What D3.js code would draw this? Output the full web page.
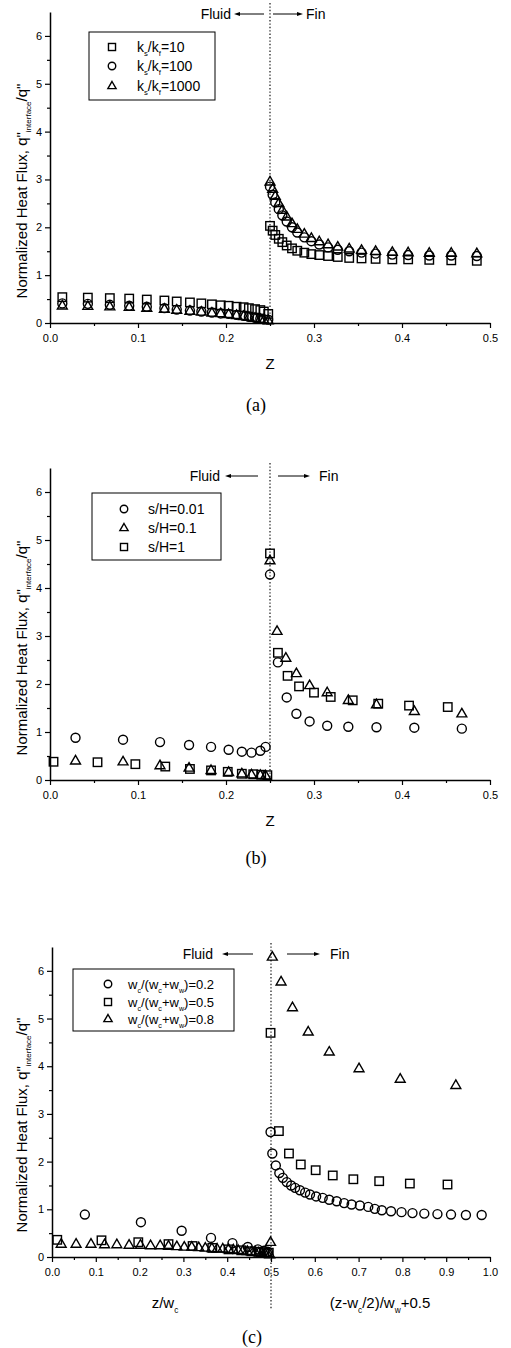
<!DOCTYPE html>
<html><head><meta charset="utf-8">
<script src="https://cdn.jsdelivr.net/npm/d3@7"></script>
<style>body{margin:0;background:#fff}svg{display:block}</style>
</head><body>
<svg id="fig" width="511" height="1348"></svg>
<script>
// ---------- (a) conductivity ratio k_s/k_f ----------
const zA = [0.014,0.043,0.068,0.090,0.110,0.130,0.144,0.159,0.172,0.184,0.194,0.203,0.212,0.220,0.226,0.233,0.239,0.243,0.248,
            0.250,0.253,0.256,0.260,0.264,0.269,0.275,0.281,0.289,0.297,0.306,0.316,0.327,0.340,0.354,0.370,0.389,0.407,0.431,0.456,0.485];
const aK10   = [0.54,0.53,0.52,0.51,0.49,0.47,0.45,0.43,0.41,0.39,0.37,0.36,0.34,0.33,0.31,0.29,0.27,0.24,0.19,
                2.03,1.93,1.84,1.76,1.69,1.62,1.56,1.51,1.47,1.44,1.42,1.40,1.38,1.36,1.35,1.34,1.33,1.33,1.32,1.31,1.30];
const aK100  = [0.41,0.40,0.38,0.36,0.34,0.31,0.28,0.26,0.24,0.22,0.20,0.19,0.17,0.15,0.13,0.11,0.09,0.08,0.07,
                2.85,2.68,2.52,2.38,2.25,2.12,2.00,1.89,1.79,1.71,1.64,1.58,1.53,1.50,1.47,1.45,1.43,1.42,1.41,1.41,1.40];
const aK1000 = [0.36,0.35,0.34,0.33,0.31,0.29,0.27,0.25,0.23,0.21,0.20,0.18,0.16,0.14,0.12,0.10,0.08,0.06,0.05,
                2.95,2.80,2.65,2.50,2.36,2.22,2.08,1.96,1.86,1.77,1.70,1.64,1.59,1.55,1.52,1.50,1.48,1.47,1.46,1.46,1.45];

// ---------- (b) thickness ratio s/H ----------
const bZ001 = [0.029,0.083,0.125,0.158,0.183,0.203,0.218,0.229,0.239,0.245,0.250,0.259,0.269,0.280,0.295,0.315,0.339,0.371,0.414,0.468];
const bS001 = [0.88,0.84,0.79,0.73,0.69,0.63,0.59,0.57,0.61,0.69,4.28,2.45,1.72,1.38,1.22,1.13,1.11,1.10,1.09,1.07];
const bZ01  = [0.029,0.083,0.125,0.158,0.183,0.203,0.218,0.229,0.239,0.245,0.250,0.258,0.268,0.280,0.295,0.315,0.339,0.371,0.414,0.468];
const bS01  = [0.40,0.38,0.30,0.25,0.20,0.16,0.13,0.11,0.10,0.09,4.57,3.10,2.54,2.22,1.97,1.82,1.66,1.57,1.43,1.38];
const bZ1   = [0.004,0.054,0.097,0.131,0.159,0.183,0.202,0.218,0.231,0.240,0.247,0.250,0.259,0.270,0.283,0.300,0.319,0.344,0.373,0.408,0.452];
const bS1   = [0.38,0.37,0.33,0.28,0.23,0.20,0.17,0.13,0.12,0.11,0.10,4.72,2.65,2.17,1.95,1.82,1.73,1.66,1.59,1.55,1.52];

// ---------- (c) width ratio w_c/(w_c+w_w) ----------
const cZ02 = [0.075,0.203,0.296,0.363,0.412,0.447,0.470,0.484,0.493,
              0.499,0.503,0.511,0.519,0.527,0.536,0.546,0.555,0.566,0.578,0.589,0.603,0.618,0.633,0.650,0.667,0.684,0.703,0.722,0.737,0.753,0.774,0.798,0.823,0.850,0.880,0.911,0.945,0.981];
const cW02 = [0.89,0.73,0.55,0.40,0.29,0.21,0.16,0.13,0.11,
              2.62,2.17,1.92,1.76,1.66,1.57,1.50,1.45,1.40,1.35,1.31,1.27,1.24,1.20,1.17,1.13,1.10,1.08,1.05,1.01,0.98,0.96,0.94,0.92,0.91,0.90,0.89,0.88,0.88];
const cZ05 = [0.012,0.113,0.197,0.266,0.321,0.366,0.403,0.432,0.455,0.472,0.485,0.495,
              0.499,0.518,0.541,0.568,0.602,0.641,0.688,0.747,0.817,0.903];
const cW05 = [0.36,0.35,0.31,0.27,0.23,0.19,0.16,0.14,0.12,0.11,0.10,0.09,
              4.70,2.64,2.17,1.94,1.82,1.71,1.63,1.59,1.54,1.52];
const cZ08 = [0.021,0.055,0.089,0.120,0.148,0.176,0.202,0.225,0.247,0.266,0.285,0.302,0.319,0.335,0.350,0.365,0.377,0.390,0.403,0.414,0.425,0.436,0.446,0.455,0.464,0.472,0.479,0.486,0.492,0.497,
              0.499,0.503,0.523,0.549,0.585,0.633,0.701,0.795,0.922];
const cW08 = [0.27,0.27,0.27,0.26,0.26,0.25,0.25,0.24,0.24,0.23,0.22,0.21,0.21,0.20,0.19,0.18,0.17,0.17,0.16,0.15,0.14,0.13,0.12,0.11,0.10,0.09,0.08,0.07,0.06,0.05,
              0.31,6.29,5.77,5.23,4.72,4.30,3.95,3.73,3.60];

const yTicks = [0,1,2,3,4,5,6];
const yMinor = [0.5,1.5,2.5,3.5,4.5,5.5];
const xTicksHalf = [0,0.1,0.2,0.3,0.4,0.5];
const xTicksFull = [0,0.1,0.2,0.3,0.4,0.5,0.6,0.7,0.8,0.9,1.0];
const minorHalf = [0.05,0.15,0.25,0.35,0.45];
const minorFull = [0.05,0.15,0.25,0.35,0.45,0.55,0.65,0.75,0.85,0.95];

const SANS = "'Liberation Sans', Arial, Helvetica, sans-serif";
const SERIF = "'Liberation Serif', 'Times New Roman', serif";
const svg = d3.select("#fig");

// open marker shapes centred on (cx, cy)
function addMarker(g, type, cx, cy, s) {
  const sw = 1.4;
  if (type === "circle") {
    g.append("circle").attr("cx", cx).attr("cy", cy).attr("r", s * 0.5)
      .attr("fill", "none").attr("stroke", "#000").attr("stroke-width", sw);
  } else if (type === "square") {
    const h = s * 0.47;
    g.append("rect").attr("x", cx - h).attr("y", cy - h).attr("width", 2 * h).attr("height", 2 * h)
      .attr("fill", "none").attr("stroke", "#000").attr("stroke-width", sw);
  } else {
    const w = s * 0.55, t = s * 0.6, b = s * 0.35;
    g.append("path").attr("d", `M${cx},${cy - t}L${cx + w},${cy + b}L${cx - w},${cy + b}Z`)
      .attr("fill", "none").attr("stroke", "#000").attr("stroke-width", sw);
  }
}

// text built from runs; a run flagged 1 is set as a subscript
function richText(sel, parts, size) {
  const drop = size * 0.3;
  let prevSub = false;
  parts.forEach(p => {
    const sub = p[1] === 1;
    const dy = (sub ? drop : 0) - (prevSub ? drop : 0);
    sel.append("tspan").text(p[0])
      .attr("font-size", sub ? size * 0.55 : size)
      .attr("dy", dy);
    prevSub = sub;
  });
}

function arrow(g, x1, x2, yy) {
  // shaft from x1 to x2 with the head at x2
  const dir = Math.sign(x2 - x1);
  g.append("line").attr("x1", x1).attr("x2", x2 - dir * 4).attr("y1", yy).attr("y2", yy)
    .attr("stroke", "#000").attr("stroke-width", 1);
  g.append("path").attr("d", `M${x2},${yy}L${x2 - dir * 6},${yy - 2}L${x2 - dir * 6},${yy + 2}Z`).attr("fill", "#000");
}

function panel(cfg) {
  const g = svg.append("g");
  const x = d3.scaleLinear().domain(cfg.xDomain).range([cfg.xLeft, cfg.xRight]);
  const y = d3.scaleLinear().domain([0, 6.5]).range([cfg.yBase, cfg.yTop]);

  // fluid/fin interface
  g.append("line").attr("x1", x(cfg.iface)).attr("x2", x(cfg.iface))
    .attr("y1", cfg.dotTop).attr("y2", cfg.dotBottom)
    .attr("stroke", "#000").attr("stroke-width", 1.1).attr("stroke-dasharray", "1.4,2");

  // axes with major and minor ticks
  g.append("g").attr("transform", `translate(${cfg.xLeft},0)`)
    .call(d3.axisLeft(y).tickValues(yTicks).tickFormat(d3.format("d")).tickSize(5).tickSizeOuter(0).tickPadding(3));
  g.append("g").attr("transform", `translate(${cfg.xLeft},0)`)
    .call(d3.axisLeft(y).tickValues(yMinor).tickFormat("").tickSize(3).tickSizeOuter(0))
    .call(a => { a.select(".domain").remove(); a.selectAll(".tick text").remove(); });
  g.append("g").attr("transform", `translate(0,${cfg.yBase})`)
    .call(d3.axisBottom(x).tickValues(cfg.xTicks).tickFormat(d3.format(".1f")).tickSize(5).tickSizeOuter(0).tickPadding(6));
  g.append("g").attr("transform", `translate(0,${cfg.yBase})`)
    .call(d3.axisBottom(x).tickValues(cfg.xMinor).tickFormat("").tickSize(3).tickSizeOuter(0))
    .call(a => { a.select(".domain").remove(); a.selectAll(".tick text").remove(); });
  g.selectAll(".domain").attr("stroke-width", 1.5);
  g.selectAll(".tick line").attr("stroke-width", 1.2);
  g.selectAll(".tick text").attr("font-family", SANS).attr("font-size", 11).attr("fill", "#000");

  // y title
  const yt = g.append("text").attr("transform", `translate(27,${cfg.yTitleY}) rotate(-90)`)
    .attr("text-anchor", "middle").attr("font-family", SANS).attr("font-size", 15).attr("fill", "#000");
  yt.append("tspan").text("Normalized Heat Flux, q\"");
  yt.append("tspan").text("interface").attr("font-size", 8).attr("dy", 4);
  yt.append("tspan").text("/q\"").attr("dy", -4);

  // data markers
  cfg.series.forEach(s => {
    const sg = g.append("g");
    s.xs.forEach((xv, i) => addMarker(sg, s.shape, x(xv), y(s.ys[i]), 9));
  });

  // legend
  const L = cfg.legend;
  g.append("rect").attr("x", L.x).attr("y", L.y).attr("width", L.w).attr("height", L.h)
    .attr("fill", "none").attr("stroke", "#000").attr("stroke-width", 1);
  cfg.series.forEach((s, i) => {
    const ry = L.rows[i];
    addMarker(g, s.shape, L.sx, ry, 7.5);
    const t = g.append("text").attr("x", L.tx).attr("y", ry + 5).attr("font-family", SANS)
      .attr("font-size", L.fs).attr("fill", "#000");
    richText(t, s.label, L.fs);
  });

  // Fluid / Fin header
  const H = cfg.head, xi = x(cfg.iface);
  g.append("text").attr("x", xi + H.fluidEnd).attr("y", H.y + 5).attr("text-anchor", "end")
    .attr("font-family", SANS).attr("font-size", 14).attr("fill", "#000").text("Fluid");
  arrow(g, xi + H.la[1], xi + H.la[0], H.y);
  arrow(g, xi + H.ra[0], xi + H.ra[1], H.y);
  g.append("text").attr("x", xi + H.finStart).attr("y", H.y + 5)
    .attr("font-family", SANS).attr("font-size", 14).attr("fill", "#000").text("Fin");

  // x titles
  cfg.xTitles.forEach(xt => {
    const t = g.append("text").attr("x", xt.x).attr("y", xt.y).attr("text-anchor", "middle")
      .attr("font-family", SANS).attr("font-size", 15).attr("fill", "#000");
    richText(t, xt.parts, 15);
  });

  // caption
  g.append("text").attr("x", cfg.cap.x).attr("y", cfg.cap.y).attr("text-anchor", "middle")
    .attr("font-family", SERIF).attr("font-size", 18).attr("fill", "#000").text(cfg.cap.t);
}

panel({
  xDomain: [0, 0.5], xLeft: 50, xRight: 490, yBase: 323, yTop: 12,
  xTicks: xTicksHalf, xMinor: minorHalf, iface: 0.25, dotTop: 3, dotBottom: 323, yTitleY: 191,
  series: [
    {shape: "square",   xs: zA, ys: aK10,   label: [["k"],["s",1],["/k"],["f",1],["=10"]]},
    {shape: "circle",   xs: zA, ys: aK100,  label: [["k"],["s",1],["/k"],["f",1],["=100"]]},
    {shape: "triangle", xs: zA, ys: aK1000, label: [["k"],["s",1],["/k"],["f",1],["=1000"]]}
  ],
  legend: {x: 89, y: 32, w: 126, h: 68, sx: 112, tx: 137, rows: [47, 66, 86], fs: 14},
  head: {y: 14, fluidEnd: -39, la: [-36, -6], ra: [3, 33], finStart: 36},
  xTitles: [{x: 270, y: 369, parts: [["Z"]]}],
  cap: {x: 256, y: 411, t: "(a)"}
});

panel({
  xDomain: [0, 0.5], xLeft: 50, xRight: 490, yBase: 780, yTop: 468,
  xTicks: xTicksHalf, xMinor: minorHalf, iface: 0.25, dotTop: 463, dotBottom: 780, yTitleY: 648,
  series: [
    {shape: "circle",   xs: bZ001, ys: bS001, label: [["s/H=0.01"]]},
    {shape: "triangle", xs: bZ01,  ys: bS01,  label: [["s/H=0.1"]]},
    {shape: "square",   xs: bZ1,   ys: bS1,   label: [["s/H=1"]]}
  ],
  legend: {x: 92, y: 493, w: 129, h: 67, sx: 124, tx: 148, rows: [509, 528, 547], fs: 14},
  head: {y: 476, fluidEnd: -50, la: [-45, -12], ra: [8, 40], finStart: 49},
  xTitles: [{x: 270, y: 826, parts: [["Z"]]}],
  cap: {x: 256, y: 864, t: "(b)"}
});

panel({
  xDomain: [0, 1], xLeft: 52, xRight: 490, yBase: 1257, yTop: 947,
  xTicks: xTicksFull, xMinor: minorFull, iface: 0.5, dotTop: 943, dotBottom: 1310, yTitleY: 1125,
  series: [
    {shape: "circle",   xs: cZ02, ys: cW02, label: [["w"],["c",1],["/(w"],["c",1],["+w"],["w",1],[")=0.2"]]},
    {shape: "square",   xs: cZ05, ys: cW05, label: [["w"],["c",1],["/(w"],["c",1],["+w"],["w",1],[")=0.5"]]},
    {shape: "triangle", xs: cZ08, ys: cW08, label: [["w"],["c",1],["/(w"],["c",1],["+w"],["w",1],[")=0.8"]]}
  ],
  legend: {x: 73, y: 969, w: 161, h: 62, sx: 108, tx: 128, rows: [984, 1002, 1019], fs: 13},
  head: {y: 954, fluidEnd: -58, la: [-49, -18], ra: [16, 49], finStart: 59},
  xTitles: [
    {x: 165, y: 1308, parts: [["z/w"],["c",1]]},
    {x: 380, y: 1308, parts: [["(z-w"],["c",1],["/2)/w"],["w",1],["+0.5"]]}
  ],
  cap: {x: 252, y: 1343, t: "(c)"}
});
</script>
</body></html>
